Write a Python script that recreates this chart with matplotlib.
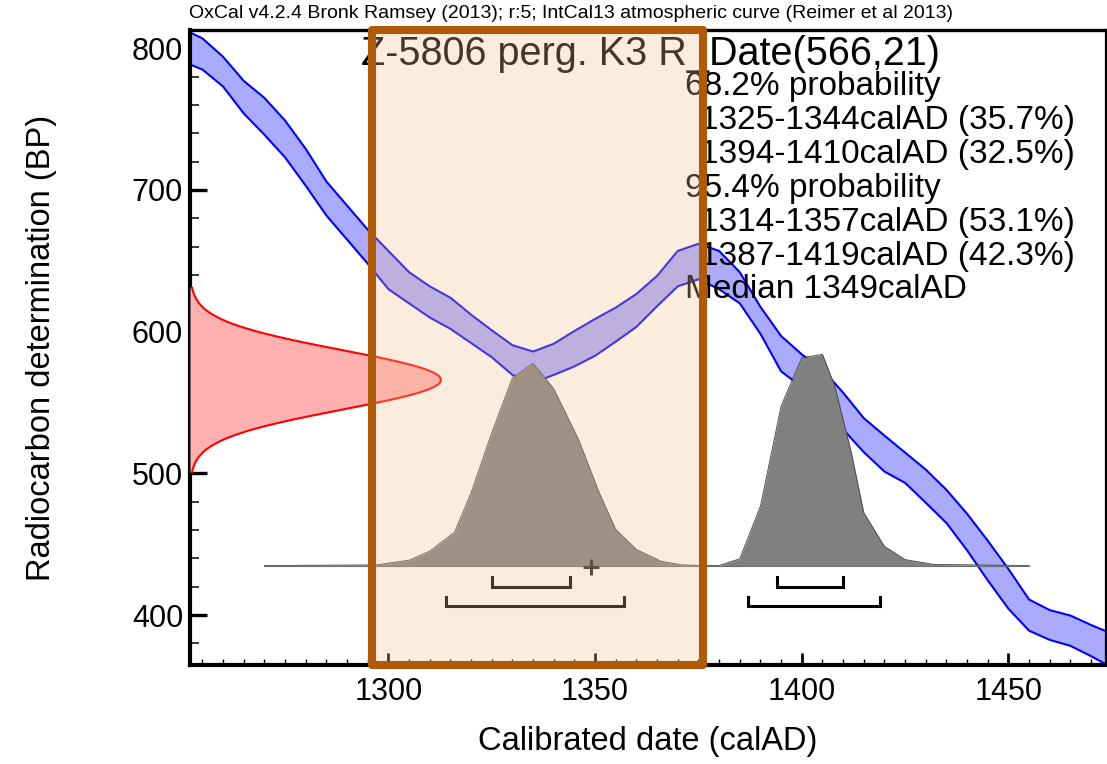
import numpy as np
import matplotlib.pyplot as plt
from matplotlib.patches import Rectangle
from matplotlib.ticker import MultipleLocator

plt.rcParams['font.family'] = ['Liberation Sans', 'DejaVu Sans']

# IntCal13 atmospheric curve, 5 yr steps: mean BP and 1-sigma
cal_years = np.arange(1250, 1480, 5)
cal_bp = [802.5, 796, 783.5, 765.5, 752, 736, 716, 694, 677, 660,
          643.5, 631, 621, 613, 602, 591.5, 580, 575, 580.5, 588,
          596, 605, 615, 628.7, 644.5, 649.5, 643.5, 631, 608, 584.5,
          572.5, 561.7, 544, 527, 514, 504, 491, 476.7, 458.6, 438.5,
          418.5, 400, 393, 389, 382, 375]
cal_err = [11.5, 11, 10.5, 11.5, 13, 13, 13, 12, 12, 12,
           13.5, 11, 11, 11, 10, 9.5, 10.5, 11, 11, 12.5,
           13, 12, 11.6, 10.7, 12.5, 12.5, 13.5, 11, 9.5, 12.5,
           11.5, 11.7, 13, 12, 12.7, 10.7, 11.7, 11.7, 12.9, 14,
           14, 11, 10.5, 10.7, 11, 12]

# radiocarbon measurement R_Date(566,21)
c14_age = 566
c14_err = 21

# calibrated probability (relative, peak = 100)
post_years = [1270, 1297, 1305, 1310, 1316, 1320, 1325, 1330, 1335, 1340,
              1346, 1351, 1355, 1360, 1366, 1371, 1376, 1380, 1385, 1390,
              1395, 1400, 1405, 1408, 1412, 1415, 1420, 1425, 1432, 1455]
post_prob = [0, 0.3, 2.5, 6.8, 15.8, 34.5, 62.9, 89, 95.7, 83.7,
             59.7, 34.5, 17.1, 7.6, 2, 0.3, 0, 0, 3.2, 28.1,
             75.5, 98.4, 100, 85, 53.4, 25, 9.1, 2.8, 0.5, 0]

ranges_68 = [(1325, 1344, 35.7), (1394, 1410, 32.5)]
ranges_95 = [(1314, 1357, 53.1), (1387, 1419, 42.3)]
median = 1349

highlight = (1296, 1376)

xmin, xmax = 1252, 1473.6
ymin, ymax = 364.8, 812.9

fig = plt.figure(figsize=(11.07, 7.64), dpi=100)
ax = fig.add_axes([190 / 1107, 99 / 764, 916 / 1107, 635 / 764])
ax.set_xlim(xmin, xmax)
ax.set_ylim(ymin, ymax)

# calibration curve band
yrs = np.asarray(cal_years)
mid = np.asarray(cal_bp)
err = np.asarray(cal_err)
ax.fill_between(yrs, mid - err, mid + err, color='#aaaaff', lw=0, zorder=2)
ax.plot(yrs, mid + err, color='#0000ff', lw=1.5, zorder=2)
ax.plot(yrs, mid - err, color='#0000ff', lw=1.5, zorder=2)

# measurement likelihood on the y axis
bp = np.linspace(c14_age - 3.1 * c14_err, c14_age + 3.1 * c14_err, 300)
dens = np.exp(-0.5 * ((bp - c14_age) / c14_err) ** 2)
red_w = 60.7
ax.fill_betweenx(bp, xmin, xmin + red_w * dens, color='#ffb0b0', lw=0, zorder=3)
ax.plot(xmin + red_w * dens, bp, color='#ff0000', lw=1.5, zorder=3)

# calibrated distribution
base = 435
post_h = 149
py = base + post_h * np.asarray(post_prob) / 100
ax.fill_between(post_years, base, py, color='#808080', lw=0, zorder=4)
ax.plot(post_years, py, color='#404040', lw=0.6, zorder=4)
ax.plot([post_years[0], post_years[-1]], [base, base], color='#707070',
        lw=0.8, zorder=4)

# range brackets and median
def bracket(a, b, y, h):
    ax.plot([a, a, b, b], [y + h, y, y, y + h], color='black', lw=2.2,
            solid_joinstyle='miter', zorder=5)

for a, b, _ in ranges_68:
    bracket(a, b, 420, 7)
for a, b, _ in ranges_95:
    bracket(a, b, 406.5, 6.6)
ax.plot([median], [434], marker='+', ms=12, mew=2.2, color='#222222', zorder=5)

# text block
ax.text(-0.001, 1.012, 'OxCal v4.2.4 Bronk Ramsey (2013); r:5; IntCal13 '
        'atmospheric curve (Reimer et al 2013)', transform=ax.transAxes,
        fontsize=14, ha='left', va='bottom', clip_on=False, zorder=3)
ax.text(0.1867, 0.945, 'Z-5806 perg. K3 R_Date(%d,%d)' % (c14_age, c14_err),
        transform=ax.transAxes, fontsize=28.5, ha='left', va='baseline', zorder=6)
lines = [(0, '68.2% probability')]
lines += [(1, '%d-%dcalAD (%.1f%%)' % r) for r in ranges_68]
lines += [(0, '95.4% probability')]
lines += [(1, '%d-%dcalAD (%.1f%%)' % r) for r in ranges_95]
lines += [(0, 'Median %dcalAD' % median)]
for i, (indent, s) in enumerate(lines):
    x0 = 0.5404 if indent == 0 else 0.5568
    ax.text(x0, 0.8976 - i * 0.05339, s, transform=ax.transAxes,
            fontsize=24, ha='left', va='baseline', zorder=6)

# highlighted period
ax.add_patch(Rectangle((highlight[0], 0), highlight[1] - highlight[0], 1,
                       transform=ax.get_xaxis_transform(),
                       facecolor=(238 / 255, 193 / 255, 142 / 255), alpha=0.29,
                       edgecolor='none', zorder=10, clip_on=False))
ax.add_patch(Rectangle((highlight[0], 0), highlight[1] - highlight[0], 1,
                       transform=ax.get_xaxis_transform(),
                       facecolor='none', edgecolor='#b05a06', lw=5.8,
                       joinstyle='round', zorder=11, clip_on=False))

ax.set_xticks([1300, 1350, 1400, 1450])
ax.set_yticks([400, 500, 600, 700, 800])
ax.xaxis.set_minor_locator(MultipleLocator(5))
ax.yaxis.set_minor_locator(MultipleLocator(20))
ax.tick_params(axis='x', which='major', direction='in', length=9, width=2,
               labelsize=22, pad=9)
ax.tick_params(axis='x', which='minor', direction='in', length=4.5, width=1)
ax.tick_params(axis='y', which='major', direction='in', length=12, width=2.4,
               labelsize=22, pad=5)
ax.tick_params(axis='y', which='minor', direction='in', length=6.5, width=1.1)

for side in ['left', 'bottom']:
    ax.spines[side].set_linewidth(3)
ax.spines['top'].set_linewidth(2.4)
ax.spines['right'].set_linewidth(1.6)

ax.set_xlabel('Calibrated date (calAD)', fontsize=23.5, labelpad=13)
ax.set_ylabel('Radiocarbon determination (BP)', fontsize=23.5, labelpad=54)

fig.savefig('out.png', dpi=100)
